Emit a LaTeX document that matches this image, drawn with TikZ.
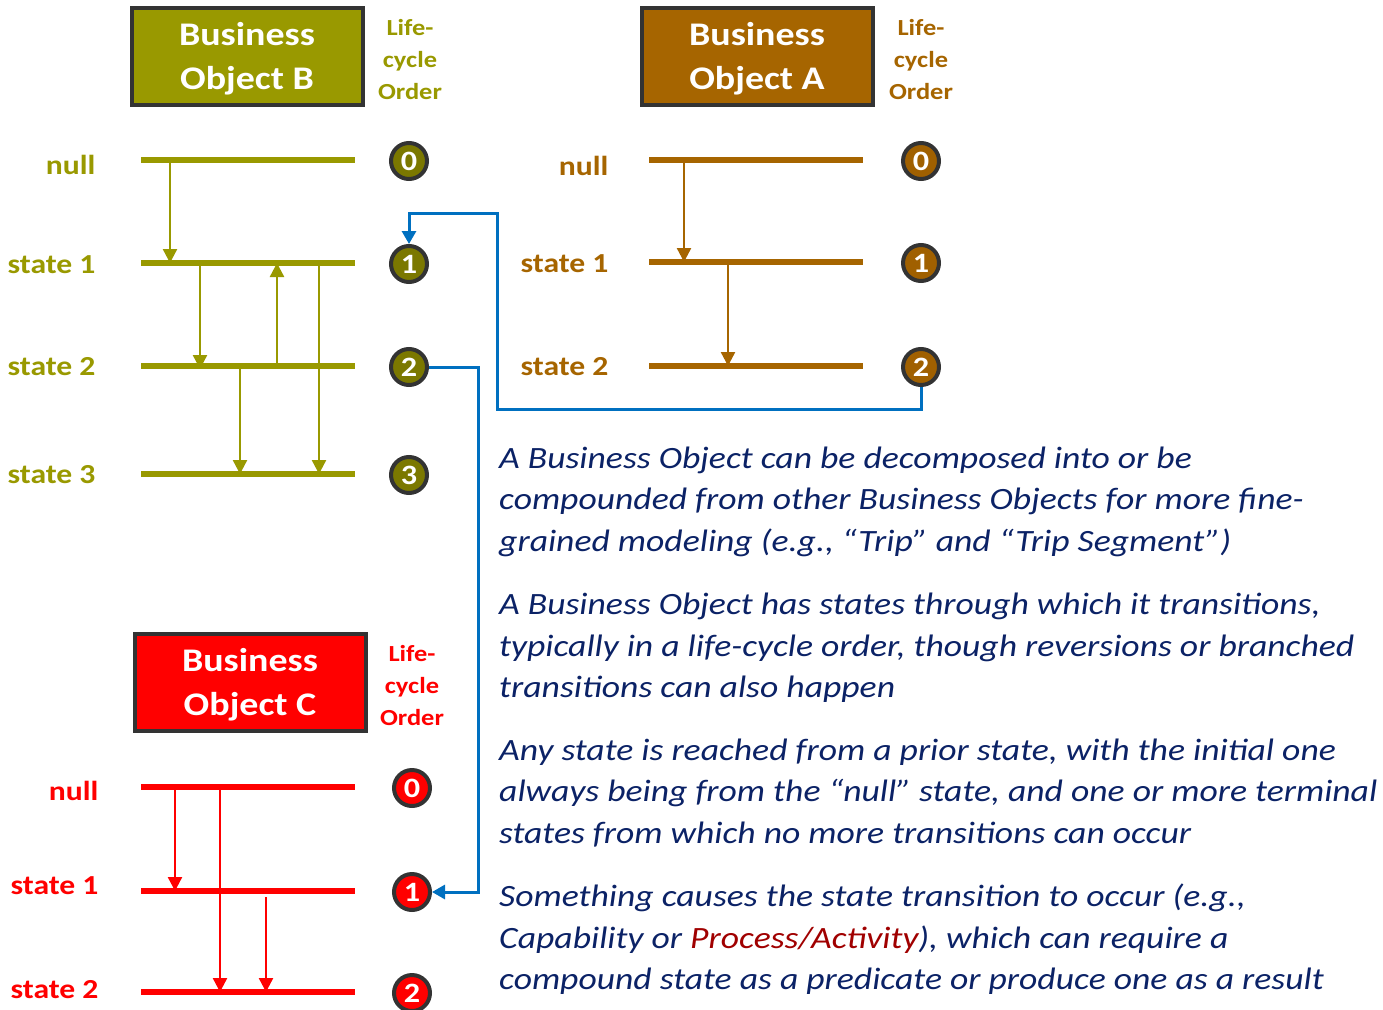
\documentclass[tikz,border=0pt]{standalone}
\usepackage{fontspec}
\setmainfont{Carlito}[FakeStretch=1.15]
\usetikzlibrary{arrows.meta}
\definecolor{oliveB}{HTML}{999900}
\definecolor{oliveBd}{HTML}{7B7800}
\definecolor{brownA}{HTML}{A66500}
\definecolor{brownAd}{HTML}{A06000}
\definecolor{redC}{HTML}{FF0000}
\definecolor{blueL}{HTML}{0070C0}
\definecolor{navyT}{HTML}{0B2266}
\definecolor{darkR}{HTML}{A00000}
\definecolor{rimG}{HTML}{333333}
\tikzset{
  objbox/.style={draw=rimG, line width=4pt, minimum width=231pt, minimum height=97pt, inner sep=0pt},
  objtext/.style={text=white, font=\fontsize{33}{44}\selectfont\bfseries, align=center},
  lco/.style={font=\fontsize{23}{32}\selectfont\bfseries, align=center},
  stlabel/.style={anchor=east, font=\fontsize{27.5}{30}\selectfont\bfseries},
  stline/.style={line width=5.5pt},
  trans/.style={line width=2.4pt, -{Triangle[length=14pt,width=14pt]}},
  ord/.style={circle, draw=rimG, line width=4pt, minimum size=36pt, inner sep=0pt,
    text=white, font=\fontsize{28}{28}\selectfont\bfseries},
  link/.style={draw=blueL, line width=3pt},
  body/.style={anchor=west, text=navyT, font=\fontsize{31}{36}\selectfont\itshape, inner sep=0pt}
}
\begin{document}
\begin{tikzpicture}[x=1pt,y=-1pt]
\useasboundingbox (0,0) rectangle (1383,1009);
% ===== Object B =====
\node[objbox, fill=oliveB] (boxB) at (247,56) {};
\node[objtext] (boxBt) at (247,59) {Business\\Object B};
\node[lco, text=oliveB] (lcoB) at (410,60) {Life-\\cycle\\Order};
\foreach \y/\t/\n/\d in {160/null/0/5,263/state 1/1/2,366/state 2/2/1,474/state 3/3/1}{
  \draw[stline, oliveB] (141,\y) -- (355,\y);
  \node[stlabel, text=oliveB] (lB\n) at (99,\y+\d) {\t};
  \node[ord, fill=oliveBd] (B\n) at (409,\y+1) {\n};
}
\draw[trans, oliveB] (170,163) -- (170,263);
\draw[trans, oliveB] (200,266) -- (200,369);
\draw[trans, oliveB] (277,363) -- (277,263);
\draw[trans, oliveB] (240,369) -- (240,474);
\draw[trans, oliveB] (319,266) -- (319,474);
% ===== Object A =====
\node[objbox, fill=brownA] (boxA) at (757,56) {};
\node[objtext] (boxAt) at (757,59) {Business\\Object A};
\node[lco, text=brownA] (lcoA) at (921,60) {Life-\\cycle\\Order};
\foreach \y/\t/\n/\d in {160/null/0/6,262/state 1/1/2,366/state 2/2/1}{
  \draw[stline, brownA] (649,\y) -- (863,\y);
  \node[stlabel, text=brownA] (lA\n) at (612,\y+\d) {\t};
  \node[ord, fill=brownAd] (A\n) at (921,\y+1) {\n};
}
\draw[trans, brownA] (684,163) -- (684,262);
\draw[trans, brownA] (728,265) -- (728,366);
% ===== Object C =====
\node[objbox, fill=redC] (boxC) at (250,682) {};
\node[objtext] (boxCt) at (250,685) {Business\\Object C};
\node[lco, text=redC] (lcoC) at (412,686) {Life-\\cycle\\Order};
\foreach \y/\t/\n in {787/null/0,891/state 1/1,992/state 2/2}{
  \draw[stline, redC] (141,\y) -- (355,\y);
  \node[ord, fill=redC] (C\n) at (412,\y+1) {\n};
}
\node[stlabel, text=redC] (lC0) at (102,791) {null};
\node[stlabel, text=redC] (lC1) at (102,886) {state 1};
\node[stlabel, text=redC] (lC2) at (102,990) {state 2};
\draw[trans, redC] (175,790) -- (175,891);
\draw[trans, redC] (220,790) -- (220,992);
\draw[trans, redC] (266,897) -- (266,992);
% ===== Blue links =====
\coordinate (k1) at (497,409);
\coordinate (k2) at (497,213);
\draw[link, -{Triangle[length=13pt,width=14pt]}] (A2.south) |- (k1) -- (k2) -| (B1.north);
\coordinate (k3) at (478,0);
\draw[link, -{Triangle[length=13pt,width=14pt]}] (B2.east) -- (B2.east -| k3) |- (C1.east);
% ===== Text =====
\node[body] (t1) at (499,460) {A Business Object can be decomposed into or be};
\node[body] (t2) at (499,501) {compounded from other Business Objects for more fine-};
\node[body] (t3) at (499,543) {grained modeling (e.g., “Trip” and “Trip Segment”)};
\node[body] (t4) at (499,606) {A Business Object has states through which it transitions,};
\node[body] (t5) at (499,648) {typically in a life-cycle order, though reversions or branched};
\node[body] (t6) at (499,689) {transitions can also happen};
\node[body] (t7) at (499,752) {Any state is reached from a prior state, with the initial one};
\node[body] (t8) at (499,793) {always being from the “null” state, and one or more terminal};
\node[body] (t9) at (499,835) {states from which no more transitions can occur};
\node[body] (t10) at (499,898) {Something causes the state transition to occur (e.g.,};
\node[body] (t11) at (499,940) {Capability or \textcolor{darkR}{Process/Activity}), which can require a};
\node[body] (t12) at (499,981) {compound state as a predicate or produce one as a result};
\end{tikzpicture}
\end{document}
